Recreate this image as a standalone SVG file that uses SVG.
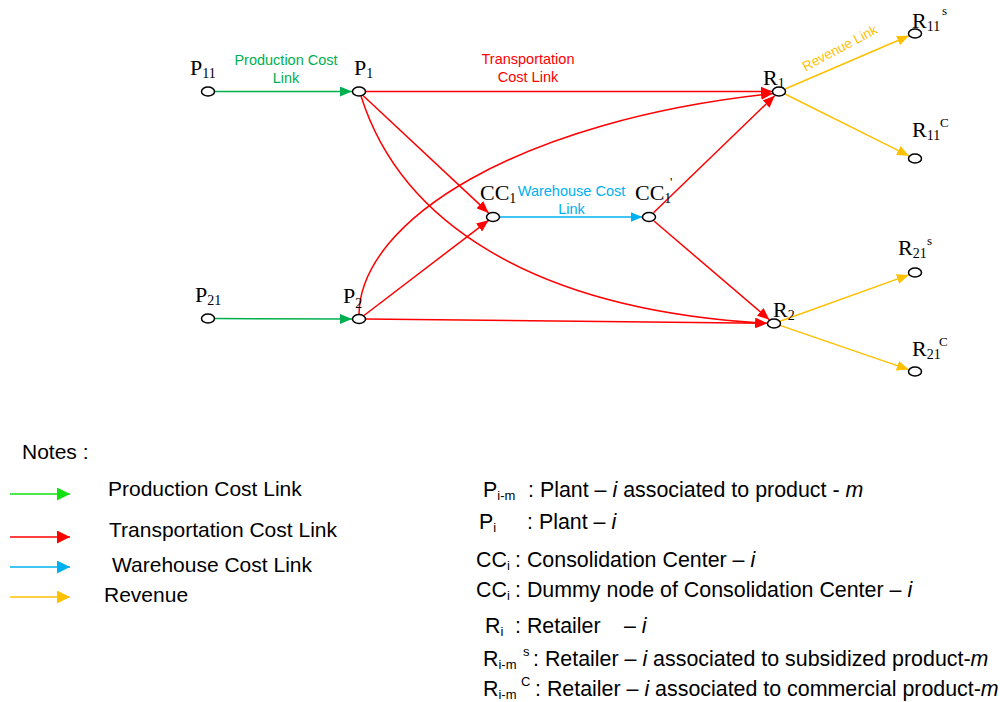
<svg xmlns="http://www.w3.org/2000/svg" width="1000" height="702" viewBox="0 0 1000 702">
<style>
.node ellipse{fill:#fff;stroke:#000;stroke-width:1.5}
.lbl{font-family:"Liberation Serif","Times New Roman",serif;font-size:22px;fill:#000}
.sub{font-size:14px}
.sup{font-size:13px}
.e{fill:none;stroke-width:1.5}
.g{stroke:#00b050}
.r{stroke:#ff0000}
.b{stroke:#00b0f0}
.o{stroke:#ffc000}
.ll{font-family:"Liberation Sans",Arial,sans-serif;font-size:14.5px;text-anchor:middle}
.leg{font-family:"Liberation Sans",Arial,sans-serif;font-size:21px;fill:#000}
.rl{font-size:21.4px}
.ls{font-size:13px}
.it{font-style:italic}
</style>
<defs>
<marker id="ag" viewBox="0 0 12 10" refX="12" refY="5" markerWidth="12" markerHeight="10" markerUnits="userSpaceOnUse" orient="auto"><path d="M0,0 L12,5 L0,10 z" fill="#00b050"/></marker>
<marker id="ar" viewBox="0 0 12 10" refX="12" refY="5" markerWidth="12" markerHeight="10" markerUnits="userSpaceOnUse" orient="auto"><path d="M0,0 L12,5 L0,10 z" fill="#ff0000"/></marker>
<marker id="ab" viewBox="0 0 12 10" refX="12" refY="5" markerWidth="12" markerHeight="10" markerUnits="userSpaceOnUse" orient="auto"><path d="M0,0 L12,5 L0,10 z" fill="#00b0f0"/></marker>
<marker id="ao" viewBox="0 0 12 10" refX="12" refY="5" markerWidth="12" markerHeight="10" markerUnits="userSpaceOnUse" orient="auto"><path d="M0,0 L12,5 L0,10 z" fill="#ffc000"/></marker>
<marker id="lg" viewBox="0 0 13 13" refX="13" refY="6.5" markerWidth="13" markerHeight="13" markerUnits="userSpaceOnUse" orient="auto"><path d="M0,0 L13,6.5 L0,13 z" fill="#11e011"/></marker>
<marker id="lr" viewBox="0 0 13 13" refX="13" refY="6.5" markerWidth="13" markerHeight="13" markerUnits="userSpaceOnUse" orient="auto"><path d="M0,0 L13,6.5 L0,13 z" fill="#ff0000"/></marker>
<marker id="lb" viewBox="0 0 13 13" refX="13" refY="6.5" markerWidth="13" markerHeight="13" markerUnits="userSpaceOnUse" orient="auto"><path d="M0,0 L13,6.5 L0,13 z" fill="#00b0f0"/></marker>
<marker id="lo" viewBox="0 0 13 13" refX="13" refY="6.5" markerWidth="13" markerHeight="13" markerUnits="userSpaceOnUse" orient="auto"><path d="M0,0 L13,6.5 L0,13 z" fill="#ffc000"/></marker>
</defs>
<rect width="1000" height="702" fill="#fff"/>

<g id="connectors">
<line class="e g" x1="214.5" y1="91.5" x2="352" y2="91.5" marker-end="url(#ag)"/>
<line class="e g" x1="214.5" y1="318.5" x2="352" y2="319" marker-end="url(#ag)"/>
<line class="e r" x1="365.5" y1="91.5" x2="772.5" y2="91.5" marker-end="url(#ar)"/>
<line class="e r" x1="363" y1="95.5" x2="488.6" y2="212.9" marker-end="url(#ar)"/>
<line class="e r" x1="364" y1="315.5" x2="488.6" y2="220.3" marker-end="url(#ar)"/>
<path class="e r" d="M361,96 C400,220 530,310 767,323.3" marker-end="url(#ar)"/>
<path class="e r" d="M359,314.5 C360,220 520,120 773,93.5" marker-end="url(#ar)"/>
<line class="e r" x1="365.5" y1="319" x2="767.5" y2="323.3" marker-end="url(#ar)"/>
<line class="e b" x1="499.5" y1="217" x2="642.5" y2="217" marker-end="url(#ab)"/>
<line class="e r" x1="653.5" y1="212.7" x2="774.7" y2="95.7" marker-end="url(#ar)"/>
<line class="e r" x1="654" y1="221" x2="769.4" y2="319.7" marker-end="url(#ar)"/>
<line class="e o" x1="785" y1="89" x2="909" y2="35.8" marker-end="url(#ao)"/>
<line class="e o" x1="785" y1="94" x2="909" y2="155.8" marker-end="url(#ao)"/>
<line class="e o" x1="780" y1="321.3" x2="908.8" y2="274.9" marker-end="url(#ao)"/>
<line class="e o" x1="780" y1="325.4" x2="908.8" y2="369.6" marker-end="url(#ao)"/>
</g>

<g id="link-labels">
<text class="ll" fill="#00b050" x="286" y="65">Production Cost</text>
<text class="ll" fill="#00b050" x="286" y="83">Link</text>
<text class="ll" fill="#ff0000" x="528" y="64">Transportation</text>
<text class="ll" fill="#ff0000" x="528" y="82">Cost Link</text>
<text class="ll" fill="#00b0f0" x="571.5" y="196">Warehouse Cost</text>
<text class="ll" fill="#00b0f0" x="571.5" y="214">Link</text>
<text class="ll" fill="#ffc000" style="font-size:13.5px" transform="translate(842,52) rotate(-28)" x="0" y="0">Revenue Link</text>
</g>

<g id="P11" class="node"><ellipse cx="208" cy="91.5" rx="6.5" ry="4.5"/><text class="lbl" x="190" y="75">P<tspan class="sub" dy="3">11</tspan></text></g>
<g id="P1" class="node"><ellipse cx="359" cy="91.5" rx="6.5" ry="4.5"/><text class="lbl" x="354" y="75">P<tspan class="sub" dy="3">1</tspan></text></g>
<g id="P21" class="node"><ellipse cx="208" cy="318.5" rx="6.5" ry="4.5"/><text class="lbl" x="195" y="302">P<tspan class="sub" dy="3">21</tspan></text></g>
<g id="P2" class="node"><ellipse cx="359" cy="319" rx="6.5" ry="4.5"/><text class="lbl" x="343" y="303">P<tspan class="sub" dy="5">2</tspan></text></g>
<g id="CC1" class="node"><ellipse cx="493" cy="217" rx="6.5" ry="4.5"/><text class="lbl" x="480" y="200">CC<tspan class="sub" dy="3">1</tspan></text></g>
<g id="CC1p" class="node"><ellipse cx="649" cy="217" rx="6.5" ry="4.5"/><text class="lbl" x="635" y="200">CC<tspan class="sub" dy="3">1</tspan></text><text class="lbl" style="font-size:13px" x="670" y="186">'</text></g>
<g id="R1" class="node"><ellipse cx="779" cy="91.5" rx="6.5" ry="4.5"/><text class="lbl" x="763" y="85">R<tspan class="sub" dy="3">1</tspan></text></g>
<g id="R2" class="node"><ellipse cx="774" cy="323.5" rx="6.5" ry="4.5"/><text class="lbl" x="773" y="317">R<tspan class="sub" dy="3">2</tspan></text></g>
<g id="R11s" class="node"><ellipse cx="915" cy="33.5" rx="6.5" ry="4.5"/><text class="lbl" x="912" y="28">R<tspan class="sub" dy="3">11</tspan></text><text class="lbl sup" x="942" y="15">s</text></g>
<g id="R11C" class="node"><ellipse cx="915" cy="158.5" rx="6.5" ry="4.5"/><text class="lbl" x="912" y="137">R<tspan class="sub" dy="3">11</tspan></text><text class="lbl sup" x="940" y="127">C</text></g>
<g id="R21s" class="node"><ellipse cx="915" cy="272.5" rx="6.5" ry="4.5"/><text class="lbl" x="898" y="255">R<tspan class="sub" dy="3">21</tspan></text><text class="lbl sup" x="927" y="245">s</text></g>
<g id="R21C" class="node"><ellipse cx="915" cy="371.5" rx="6.5" ry="4.5"/><text class="lbl" x="912" y="356">R<tspan class="sub" dy="3">21</tspan></text><text class="lbl sup" x="939" y="346">C</text></g>

<g id="legend">
<text class="leg" x="22" y="459">Notes :</text>
<line x1="10" y1="494" x2="70" y2="494" stroke="#11e011" stroke-width="1.5" marker-end="url(#lg)"/>
<line x1="10" y1="537" x2="70" y2="537" stroke="#ff0000" stroke-width="1.5" marker-end="url(#lr)"/>
<line x1="10" y1="567" x2="70" y2="567" stroke="#00b0f0" stroke-width="1.5" marker-end="url(#lb)"/>
<line x1="10" y1="597" x2="70" y2="597" stroke="#ffc000" stroke-width="1.5" marker-end="url(#lo)"/>
<text class="leg" x="108" y="496">Production Cost Link</text>
<text class="leg" x="109" y="537">Transportation Cost Link</text>
<text class="leg" x="112" y="572">Warehouse Cost Link</text>
<text class="leg" x="104" y="602">Revenue</text>
</g>

<g id="symbols">
<text class="leg rl" x="483" y="497">P<tspan class="ls" dy="3">i-m</tspan><tspan x="528" dy="-3">: Plant – </tspan><tspan class="it">i</tspan> associated to product - <tspan class="it">m</tspan></text>
<text class="leg rl" x="479" y="529">P<tspan class="ls" dy="3">i</tspan><tspan x="527" dy="-3">: Plant – </tspan><tspan class="it">i</tspan></text>
<text class="leg rl" x="476" y="567">CC<tspan class="ls" dy="3">i</tspan><tspan x="515" dy="-3">: Consolidation Center – </tspan><tspan class="it">i</tspan></text>
<text class="leg rl" x="476" y="597">CC<tspan class="ls" dy="3">i</tspan><tspan x="515" dy="-3">: Dummy node of Consolidation Center – </tspan><tspan class="it">i</tspan></text>
<text class="leg rl" x="485" y="633">R<tspan class="ls" dy="3">i</tspan><tspan x="515" dy="-3">: Retailer</tspan><tspan x="624">– </tspan><tspan class="it">i</tspan></text>
<text class="leg rl" x="483" y="666">R<tspan class="ls" dy="3">i-m</tspan><tspan class="ls" x="523" dy="-13">s</tspan><tspan x="533" dy="10">: Retailer – </tspan><tspan class="it">i</tspan> associated to subsidized product-<tspan class="it">m</tspan></text>
<text class="leg rl" x="483" y="696">R<tspan class="ls" dy="3">i-m</tspan><tspan class="ls" x="521" dy="-13">C</tspan><tspan x="535" dy="10">: Retailer – </tspan><tspan class="it">i</tspan> associated to commercial product-<tspan class="it">m</tspan></text>
</g>
</svg>
